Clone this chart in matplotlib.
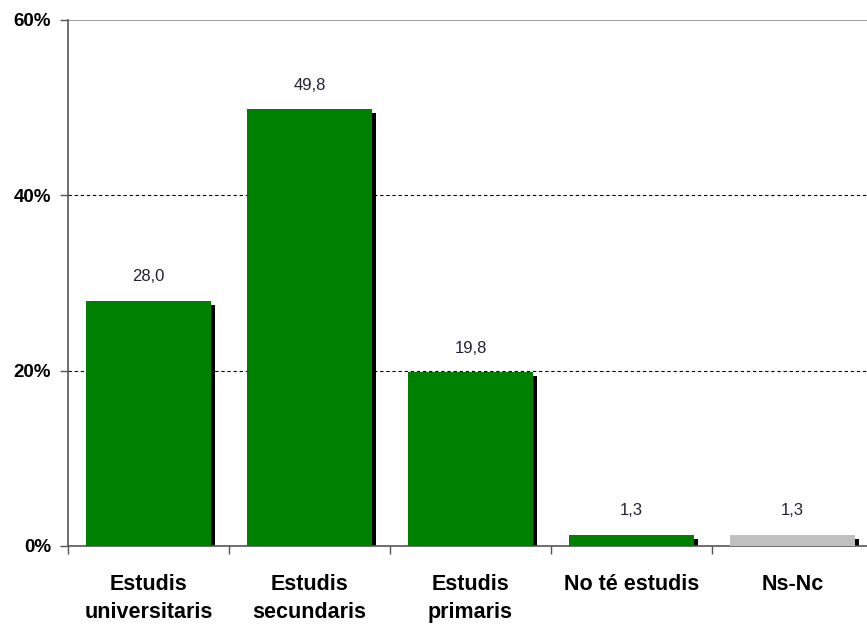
import numpy as np
import matplotlib.pyplot as plt
from matplotlib import rcParams
rcParams['font.family'] = ['Liberation Sans', 'DejaVu Sans']

categories = ["Estudis\nuniversitaris", "Estudis\nsecundaris", "Estudis\nprimaris",
              "No té estudis", "Ns-Nc"]
values = [28.0, 49.8, 19.8, 1.3, 1.3]
colors = ["#008000", "#008000", "#008000", "#008000", "#C0C0C0"]
yticks = [0, 20, 40, 60]

fig = plt.figure(figsize=(8.67, 6.28), dpi=100)
ax = fig.add_axes([68/867, 82/628, 805/867, 526/628])

x = np.arange(len(values))
w = 0.78
# shadow: ~4 px right and down
dx = 4 / 161
dy = 4 / (526 / 60)
ax.bar(x + dx, [v - dy for v in values], width=w, bottom=0, color="black", zorder=2)
ax.bar(x, values, width=w, color=colors, zorder=3)

for xi, v in zip(x, values):
    ax.text(xi, v + 1.9, f"{v:.1f}".replace(".", ","), ha="center", va="bottom",
            fontsize=12, color="#222233", zorder=4)

ax.set_xlim(-0.5, 4.5)
ax.set_ylim(0, 60)
for g in [20, 40]:
    ax.axhline(g, color="black", lw=0.8, ls=(0, (3, 2.5)), zorder=1)
ax.axhline(60, color="#8c8c8c", lw=1.2, zorder=1)

ax.set_yticks(yticks)
ax.set_yticklabels([f"{t}%" for t in yticks], fontsize=13.5, fontweight="bold")
ax.set_xticks(np.arange(-0.5, 4.6, 1.0))
ax.set_xticklabels([])
ax.set_xticks(x, minor=True)
ax.set_xticklabels(categories, minor=True, fontsize=15.5, fontweight="bold", linespacing=1.45)
ax.tick_params(axis="x", which="minor", length=0, pad=20)
ax.tick_params(axis="x", which="major", length=6, width=1, color="#555555", direction="out")
ax.tick_params(axis="y", length=6, width=1, color="#555555", pad=6)

for s in ["top", "right"]:
    ax.spines[s].set_visible(False)
ax.spines["left"].set_color("#555555")
ax.spines["left"].set_linewidth(1.2)
ax.spines["bottom"].set_color("#555555")
ax.spines["bottom"].set_linewidth(1.2)

fig.savefig("out.png", dpi=100)
